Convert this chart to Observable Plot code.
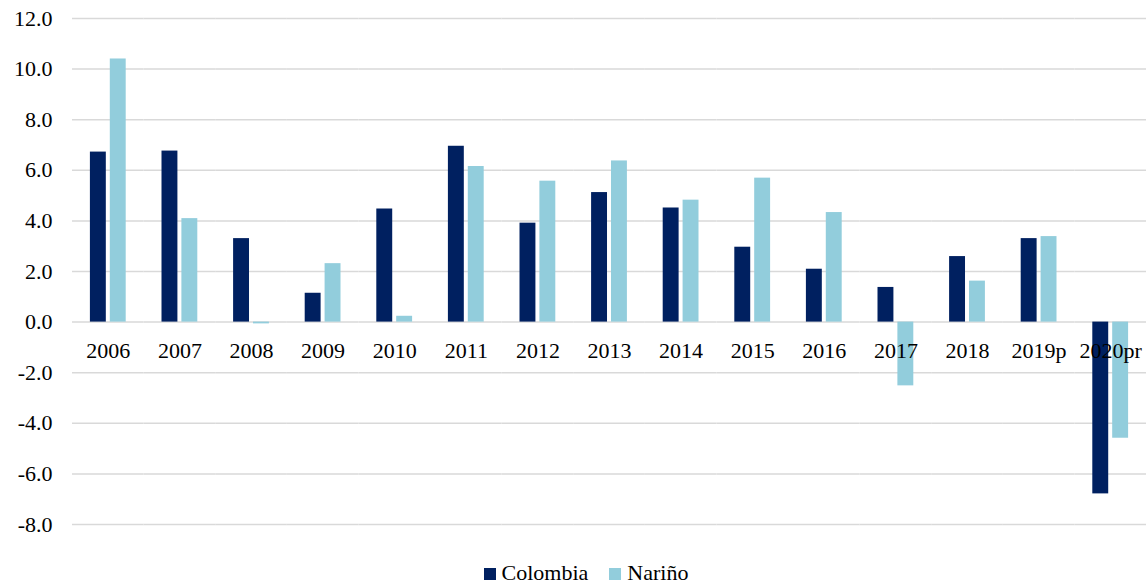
<!DOCTYPE html>
<html>
<head>
<meta charset="utf-8">
<script src="https://cdn.jsdelivr.net/npm/d3@7"></script>
<script src="https://cdn.jsdelivr.net/npm/@observablehq/plot@0.6"></script>
<style>
  body { margin: 0; background: #fff; font-family: "Liberation Serif", serif; }
  #legend { display: flex; justify-content: center; align-items: center; gap: 21px; margin-top: 12px; padding-left: 26px; font-size: 22px; color: #000; line-height: 25px; font-family: "Liberation Serif", serif; }
  #legend .item { display: flex; align-items: center; }
  #legend .sw { width: 12px; height: 12px; margin-right: 6px; margin-top: 2px; }
</style>
</head>
<body>
<div id="chart"></div>
<div id="legend"></div>
<script>
const years = ["2006","2007","2008","2009","2010","2011","2012","2013","2014","2015","2016","2017","2018","2019p","2020pr"];
const colombia = [6.72, 6.76, 3.30, 1.14, 4.47, 6.95, 3.91, 5.12, 4.51, 2.96, 2.09, 1.37, 2.59, 3.30, -6.79];
const narino   = [10.40, 4.09, -0.07, 2.31, 0.23, 6.15, 5.57, 6.37, 4.82, 5.69, 4.33, -2.52, 1.62, 3.38, -4.59];
const seriesNames = ["Colombia", "Nariño"];
const seriesColors = ["#002060", "#92CDDC"];
const yTicks = [-8, -6, -4, -2, 0, 2, 4, 6, 8, 10, 12];

const rows = [];
years.forEach((y, i) => {
  rows.push({year: y, series: seriesNames[0], value: colombia[i]});
  rows.push({year: y, series: seriesNames[1], value: narino[i]});
});

const W = 1146, ML = 72, MR = 0;
const fxPadInner = 0.5, fxPadOuter = 0.25;
const step = (W - ML - MR) / (years.length - fxPadInner + 2 * fxPadOuter);
const halfGap = step * fxPadInner / 2;

const chart = Plot.plot({
  width: W,
  height: 548,
  marginLeft: ML,
  marginRight: MR,
  marginTop: 18,
  marginBottom: 24,
  style: { fontFamily: "Liberation Serif, serif", fontSize: "22px", color: "#000", background: "#fff" },
  fx: { domain: years, paddingInner: fxPadInner, paddingOuter: fxPadOuter, round: false, axis: null, label: null },
  x: { domain: seriesNames, paddingInner: 0.2, paddingOuter: 0, round: false, axis: null, label: null },
  y: { domain: [-8, 12], ticks: yTicks, tickFormat: d => d.toFixed(1), tickSize: 0, tickPadding: 20 + halfGap, label: null },
  color: { domain: seriesNames, range: seriesColors },
  marks: [
    Plot.ruleY(yTicks, { stroke: "#d9d9d9", strokeWidth: 1.5, insetLeft: -halfGap, insetRight: -halfGap }),
    Plot.barY(rows, { fx: "year", x: "series", y: "value", fill: "series" }),
    Plot.text(years, { fx: d => d, y: () => 0, text: d => d, dy: 29, fill: "#000", fontSize: 22, lineAnchor: "middle", textAnchor: "middle" })
  ]
});
document.getElementById("chart").appendChild(chart);

const legend = document.getElementById("legend");
seriesNames.forEach((name, i) => {
  const item = document.createElement("div");
  item.className = "item";
  const sw = document.createElement("span");
  sw.className = "sw";
  sw.style.background = seriesColors[i];
  const label = document.createElement("span");
  label.textContent = name;
  item.appendChild(sw);
  item.appendChild(label);
  legend.appendChild(item);
});
</script>
</body>
</html>
